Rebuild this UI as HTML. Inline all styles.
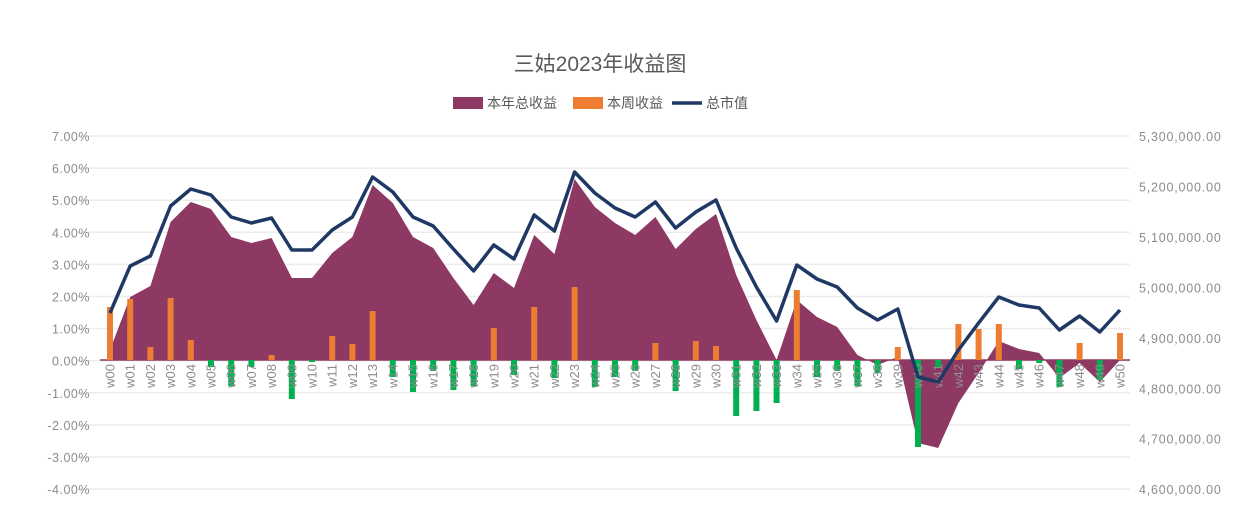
<!DOCTYPE html>
<html><head><meta charset="utf-8"><style>
body{margin:0;background:#fff;width:1250px;height:516px;overflow:hidden}
svg{font-family:"Liberation Sans","Noto Sans CJK SC",sans-serif}
</style></head><body>
<svg id="s" width="1250" height="516" xmlns="http://www.w3.org/2000/svg">
<text x="600" y="71" text-anchor="middle" font-size="21" fill="#595959">三姑2023年收益图</text>
<rect x="453" y="97" width="30" height="12" fill="#8e3864"/>
<text x="487" y="108" font-size="14" fill="#595959">本年总收益</text>
<rect x="573" y="97" width="30" height="12" fill="#ed7d31"/>
<text x="607" y="108" font-size="14" fill="#595959">本周收益</text>
<line x1="672" y1="103" x2="702" y2="103" stroke="#1f3864" stroke-width="3.5"/>
<text x="706" y="108" font-size="14" fill="#595959">总市值</text>
<g id="g"></g>
</svg>
<script>
var g=document.getElementById('g'),h='';
var L=['7.00%','6.00%','5.00%','4.00%','3.00%','2.00%','1.00%','0.00%','-1.00%','-2.00%','-3.00%','-4.00%'];
var R=['5,300,000.00','5,200,000.00','5,100,000.00','5,000,000.00','4,900,000.00','4,800,000.00','4,700,000.00','4,600,000.00'];
for(var i=0;i<12;i++){var y=136+i*32.1;h+='<line x1="78" x2="1130" y1="'+y+'" y2="'+y+'" stroke="#ececec" stroke-width="1.5"/>';
h+='<text x="90" y="'+(y+5)+'" text-anchor="end" font-size="12.5" fill="#8c8c8c" letter-spacing="0.5">'+L[i]+'</text>';}
for(var i=0;i<8;i++){var y=136+i*50.45;h+='<text x="1139" y="'+(y+5)+'" font-size="12.5" fill="#8c8c8c" letter-spacing="0.8">'+R[i]+'</text>';}
var A=[350,297,286,222,202,209,237,243,238,278,278,253,237,185,203,237,248,278,305,273,288,235,254,179,207,223,235,217,249,229,214,275,320,360,300,317,327,355,365,357,443,448,403,373,341,349,353,378,363,382,360];
var Ln=[313,266,256,206,189,195,217,223,218,250,250,230,217,177,192,217,226,249,271,245,259,215,231,172,193,208,217,202,228,212,200,248,287,321,265,279,287,308,320,309,377,382,350,323,297,305,308,330,316,332,310];
var B=[307,299,347,298,340,367,386,367,355,399,362,336,344,311,377,392,371,390,386,328,375,307,378,287,387,377,371,343,391,341,346,416,411,403,290,377,371,386,373,347,447,367,324,329,324,369,363,387,343,380,333];
var Z=360,X=function(i){return 110+i*20.2};
var p='M'+X(0)+','+Z;for(i=0;i<51;i++)p+=' L'+X(i)+','+A[i];p+=' L'+X(50)+','+Z+'Z';
h+='<path d="'+p+'" fill="#8e3864"/>';
h+='<line x1="100" x2="1130" y1="360" y2="360" stroke="#8e3864" stroke-width="1.5"/>';
for(i=0;i<51;i++){var b=B[i],x=X(i)-3;if(b<Z)h+='<rect x="'+x+'" y="'+b+'" width="6" height="'+(Z-b)+'" fill="#ed7d31"/>';else h+='<rect x="'+x+'" y="'+Z+'" width="6" height="'+(b-Z)+'" fill="#00b050"/>';}
for(i=0;i<51;i++){var lb='w'+(i<10?'0':'')+i;h+='<text transform="translate('+(X(i)+4.5)+',364) rotate(-90)" text-anchor="end" font-size="13" fill="#8c8c8c">'+lb+'</text>';}
var q='';for(i=0;i<51;i++)q+=(i?' L':'M')+X(i)+','+Ln[i];
h+='<path d="'+q+'" fill="none" stroke="#1f3864" stroke-width="3.5" stroke-linejoin="round"/>';
g.innerHTML=h;
</script>
</body></html>
